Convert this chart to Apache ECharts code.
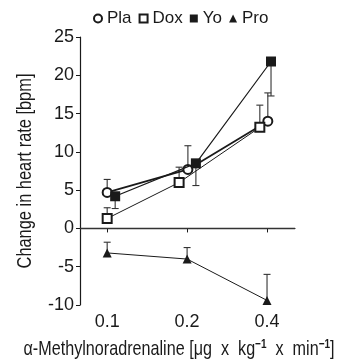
<!DOCTYPE html>
<html>
<head>
<meta charset="utf-8">
<script src="https://cdn.jsdelivr.net/npm/echarts@6/dist/echarts.min.js"></script>
<style>
  html, body { margin: 0; padding: 0; background: #fff; }
  #chart { width: 337px; height: 362px; }
</style>
</head>
<body>
<div id="chart"></div>
<script>
// doses shown on the x axis, placed at index 1,2,3
const doses = ['0.1', '0.2', '0.4'];
const doseIdx = [1, 2, 3];

// x position of each group (index units, slightly offset like the figure)
const plaX = [1.0, 2.01, 3.01];
const doxX = [1.0, 1.9, 2.91];
const yoX = [1.1, 2.11, 3.05];
const proX = [1.0, 2.0, 3.0];

// mean change in heart rate [bpm]
const plaVal = [4.7, 7.7, 14.0];
const doxVal = [1.3, 6.0, 13.2];
const yoVal = [4.2, 8.5, 21.8];
const proVal = [-3.2, -4.0, -9.4];

// end of the one-sided error bar
const plaErr = [6.4, 10.8, 17.7];
const doxErr = [2.7, 8.0, 16.1];
const yoErr = [2.6, 5.6, 17.3];
const proErr = [-1.8, -2.5, -6.0];

const yTicks = [-10, -5, 0, 5, 10, 15, 20, 25];

const FONT = 'sans-serif';
const INK = '#1a1a1a';

const zip = (xs, ys) => xs.map((x, i) => [x, ys[i]]);

const errData = [];
[[plaX, plaVal, plaErr], [doxX, doxVal, doxErr], [yoX, yoVal, yoErr], [proX, proVal, proErr]]
  .forEach(([xs, v, e]) => xs.forEach((x, i) => errData.push([x, v[i], e[i]])));

function renderErr(params, api) {
  const p0 = api.coord([api.value(0), api.value(1)]);
  const p1 = api.coord([api.value(0), api.value(2)]);
  const cap = 3.5;
  const st = { stroke: '#333', lineWidth: 1.1 };
  return {
    type: 'group',
    children: [
      { type: 'line', shape: { x1: p0[0], y1: p0[1], x2: p1[0], y2: p1[1] }, style: st },
      { type: 'line', shape: { x1: p1[0] - cap, y1: p1[1], x2: p1[0] + cap, y2: p1[1] }, style: st }
    ]
  };
}

const chart = echarts.init(document.getElementById('chart'));
chart.setOption({
  animation: false,
  textStyle: { fontFamily: FONT, color: INK },
  legend: {
    top: 5,
    left: 88,
    itemWidth: 8,
    itemHeight: 8,
    itemGap: 7,
    textStyle: { fontFamily: FONT, fontSize: 17, color: INK },
    data: [
      { name: 'Pla', icon: 'emptyCircle', itemStyle: { color: INK, borderColor: INK, borderWidth: 1 } },
      { name: 'Dox', icon: 'emptyRect', itemStyle: { color: INK, borderColor: INK, borderWidth: 1 } },
      { name: 'Yo', icon: 'rect', itemStyle: { color: INK } },
      { name: 'Pro', icon: 'triangle', itemStyle: { color: INK } }
    ]
  },
  grid: { left: 80, right: 42, top: 37, bottom: 57, containLabel: false, outerBoundsMode: 'none' },
  graphic: [
    {
      type: 'text',
      x: 25, y: 171,
      rotation: Math.PI / 2,
      scaleX: 0.78,
      style: {
        text: 'Change in heart rate [bpm]',
        font: '21px ' + FONT, fill: INK,
        align: 'center', verticalAlign: 'middle'
      }
    },
    {
      type: 'text',
      x: 179, y: 349,
      scaleX: 0.77,
      style: {
        text: '{t|α-Methylnoradrenaline [μg  x  kg}{s|−1}{t|  x  min}{s|−1}{t|]}',
        align: 'center', verticalAlign: 'middle',
        rich: {
          t: { font: '21px ' + FONT, fill: INK },
          s: { font: 'bold 13px ' + FONT, fill: INK, verticalAlign: 'top', padding: [0, 0, 10, 0] }
        }
      }
    }
  ],
  xAxis: {
    type: 'value',
    min: 0.66,
    max: 3.35,
    splitLine: { show: false },
    axisLine: { lineStyle: { color: INK, width: 1.2 } },
    axisTick: { show: true, length: 4, customValues: doseIdx, lineStyle: { color: INK } },
    axisLabel: {
      customValues: doseIdx,
      formatter: (v) => doses[doseIdx.indexOf(Math.round(v))] || '',
      fontFamily: FONT, fontSize: 18, color: INK, margin: 8
    }
  },
  yAxis: {
    type: 'value',
    min: -10,
    max: 25,
    interval: 5,
    splitLine: { show: false },
    axisLine: { show: true, lineStyle: { color: INK, width: 1.2 } },
    axisTick: { show: true, length: 4, lineStyle: { color: INK } },
    axisLabel: {
      fontFamily: FONT, fontSize: 18, color: INK, margin: 6,
      formatter: (v) => (yTicks.indexOf(v) >= 0 ? String(v) : '')
    }
  },
  series: [
    {
      type: 'custom',
      name: 'err',
      renderItem: renderErr,
      data: errData,
      z: 1,
      silent: true
    },
    {
      name: 'Pla', type: 'line', data: zip(plaX, plaVal),
      symbol: 'emptyCircle', symbolSize: 9,
      lineStyle: { color: INK, width: 1.8 },
      itemStyle: { color: INK, borderWidth: 1.1 },
      z: 3
    },
    {
      name: 'Dox', type: 'line', data: zip(doxX, doxVal),
      symbol: 'emptyRect', symbolSize: 9,
      lineStyle: { color: INK, width: 1 },
      itemStyle: { color: INK, borderWidth: 1.1 },
      z: 3
    },
    {
      name: 'Yo', type: 'line', data: zip(yoX, yoVal),
      symbol: 'rect', symbolSize: 10,
      lineStyle: { color: INK, width: 1.2 },
      itemStyle: { color: INK },
      z: 4
    },
    {
      name: 'Pro', type: 'line', data: zip(proX, proVal),
      symbol: 'triangle', symbolSize: 9,
      lineStyle: { color: INK, width: 1 },
      itemStyle: { color: INK },
      z: 3,
      markLine: {
        silent: true,
        symbol: 'none',
        label: { show: false },
        lineStyle: { color: '#333', width: 1.3, type: 'solid' },
        data: [{ yAxis: 0 }]
      }
    }
  ]
});
</script>
</body>
</html>
